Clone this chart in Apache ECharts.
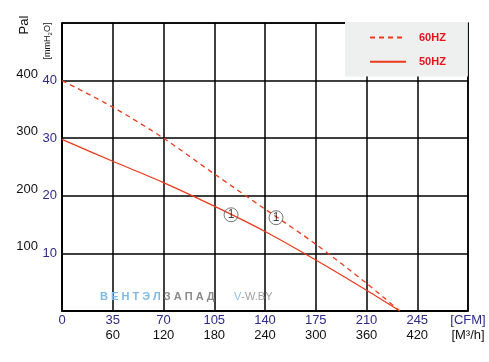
<!DOCTYPE html>
<html>
<head>
<meta charset="utf-8">
<script src="https://cdn.jsdelivr.net/npm/echarts@6/dist/echarts.min.js"></script>
<style>
html,body{margin:0;padding:0;background:#fff;}
#c{width:489px;height:362px;}
</style>
</head>
<body>
<div id="c"></div>
<script>
// ---- data ----
var cfmTicks = ['0','35','70','105','140','175','210','245','[CFM]'];
var m3hTicks = ['','60','120','180','240','300','360','420','[M³/h]'];
var mmTicks = ['','10','20','30','40',''];
var paTicks = ['','100','200','300','400',''];

var seriesNames = ['60HZ','50HZ'];
// [CFM, mmH2O]
var curve60 = [[0,40.0],[35,35.4],[70,30.0],[105,23.8],[140,17.7],[175,11.6],[210,4.8],[233,0]];
var curve50 = [[0,29.8],[35,26.0],[70,22.3],[105,18.2],[140,13.8],[175,8.85],[210,3.6],[233,0]];
var markerLabels = ['1','1'];
var markers = [[116.6,16.7],[147.6,16.2]];

var RED = '#ee3a1c';
var BLUE = '#2d2a8a';
var FONT = 'Liberation Sans, Arial, sans-serif';

var chart = echarts.init(document.getElementById('c'), null, {renderer:'canvas'});
chart.setOption({
  animation:false,
  backgroundColor:'#fff',
  grid:{left:62, top:23, right:21, bottom:51, show:true, borderColor:'#000', borderWidth:1.5},
  xAxis:[{
    type:'value', min:0, max:280, interval:35, position:'bottom',
    axisLine:{show:true, lineStyle:{color:'#000', width:1.5}},
    axisTick:{show:false},
    splitLine:{show:true, lineStyle:{color:'#000', width:1.5}},
    axisLabel:{margin:3, fontFamily:FONT, fontSize:13, showMinLabel:true, showMaxLabel:true,
      formatter:function(v){return cfmTicks[Math.round(v/35)];},
      color:function(v){return v===0?'#111':BLUE;}}
  },{
    type:'value', min:0, max:280, interval:35, position:'bottom', offset:15,
    axisLine:{show:false}, axisTick:{show:false}, splitLine:{show:false},
    axisLabel:{margin:3, fontFamily:FONT, fontSize:13, color:'#111', showMinLabel:true, showMaxLabel:true,
      formatter:function(v){return m3hTicks[Math.round(v/35)];}}
  }],
  yAxis:[{
    type:'value', min:0, max:50, interval:10, position:'left',
    axisLine:{show:true, lineStyle:{color:'#000', width:1.5}},
    axisTick:{show:false},
    splitLine:{show:true, lineStyle:{color:'#000', width:1.5}},
    axisLabel:{margin:5, fontFamily:FONT, fontSize:13, color:BLUE,
      formatter:function(v){return mmTicks[Math.round(v/10)];}}
  },{
    type:'value', min:0, max:50, interval:10, position:'left', offset:19,
    axisLine:{show:false}, axisTick:{show:false}, splitLine:{show:false},
    axisLabel:{margin:5, fontFamily:FONT, fontSize:13, color:'#111', verticalAlign:'bottom', lineHeight:13,
      formatter:function(v){return paTicks[Math.round(v/10)];}}
  }],
  legend:{
    data:seriesNames, orient:'vertical', left:345, top:22,
    padding:[10,22,9,24], itemWidth:36, itemHeight:14, itemGap:13,
    backgroundColor:'#eeefef', borderWidth:0,
    itemStyle:{color:'rgba(0,0,0,0)', borderWidth:0, opacity:0},
    textStyle:{color:'#e8141c', fontFamily:FONT, fontSize:11, fontWeight:'bold', padding:[0,0,0,8]}
  },
  graphic:[
    {type:'text', x:24, y:25, rotation:Math.PI/2, style:{text:'Pal', font:'13px '+FONT, fill:'#111', align:'center', verticalAlign:'middle'}},
    {type:'text', x:48, y:41, rotation:Math.PI/2, style:{
      text:'[mmH{s|2}O]', font:'9px '+FONT, fill:'#111', align:'center', verticalAlign:'middle',
      rich:{s:{fontSize:6, verticalAlign:'bottom', fill:'#111', padding:[4,0,0,0]}}}},
    {type:'text', x:100, y:297, z:1, style:{
      text:'{b|В Е Н Т Э Л }{g|З А П А Д}', verticalAlign:'middle',
      rich:{b:{fill:'#7db9e8', font:'bold 11px '+FONT}, g:{fill:'#8a8a8a', font:'bold 11px '+FONT}}}},
    {type:'text', x:234, y:297, z:1, style:{
      text:'{b|V}{g|-W.BY}', verticalAlign:'middle',
      rich:{b:{fill:'#8fc0ea', font:'11px '+FONT}, g:{fill:'#a0a0a0', font:'11px '+FONT}}}}
  ],
  series:[
    {name:seriesNames[0], type:'line', data:curve60, smooth:0.3, symbol:'none', showSymbol:false,
     lineStyle:{color:RED, width:1.3, type:[5,4]}, itemStyle:{color:RED}, z:3},
    {name:seriesNames[1], type:'line', data:curve50, smooth:0.3, symbol:'none', showSymbol:false,
     lineStyle:{color:RED, width:1.3, type:'solid'}, itemStyle:{color:RED}, z:3},
    {name:'marker', type:'scatter', data:markers, symbol:'circle', symbolSize:14, z:4,
     itemStyle:{color:'rgba(255,255,255,0)', borderColor:'#555', borderWidth:1},
     label:{show:true, position:'inside', fontFamily:FONT, fontSize:12, color:'#111',
       formatter:function(p){return markerLabels[p.dataIndex];}}}
  ]
});
</script>
</body>
</html>
